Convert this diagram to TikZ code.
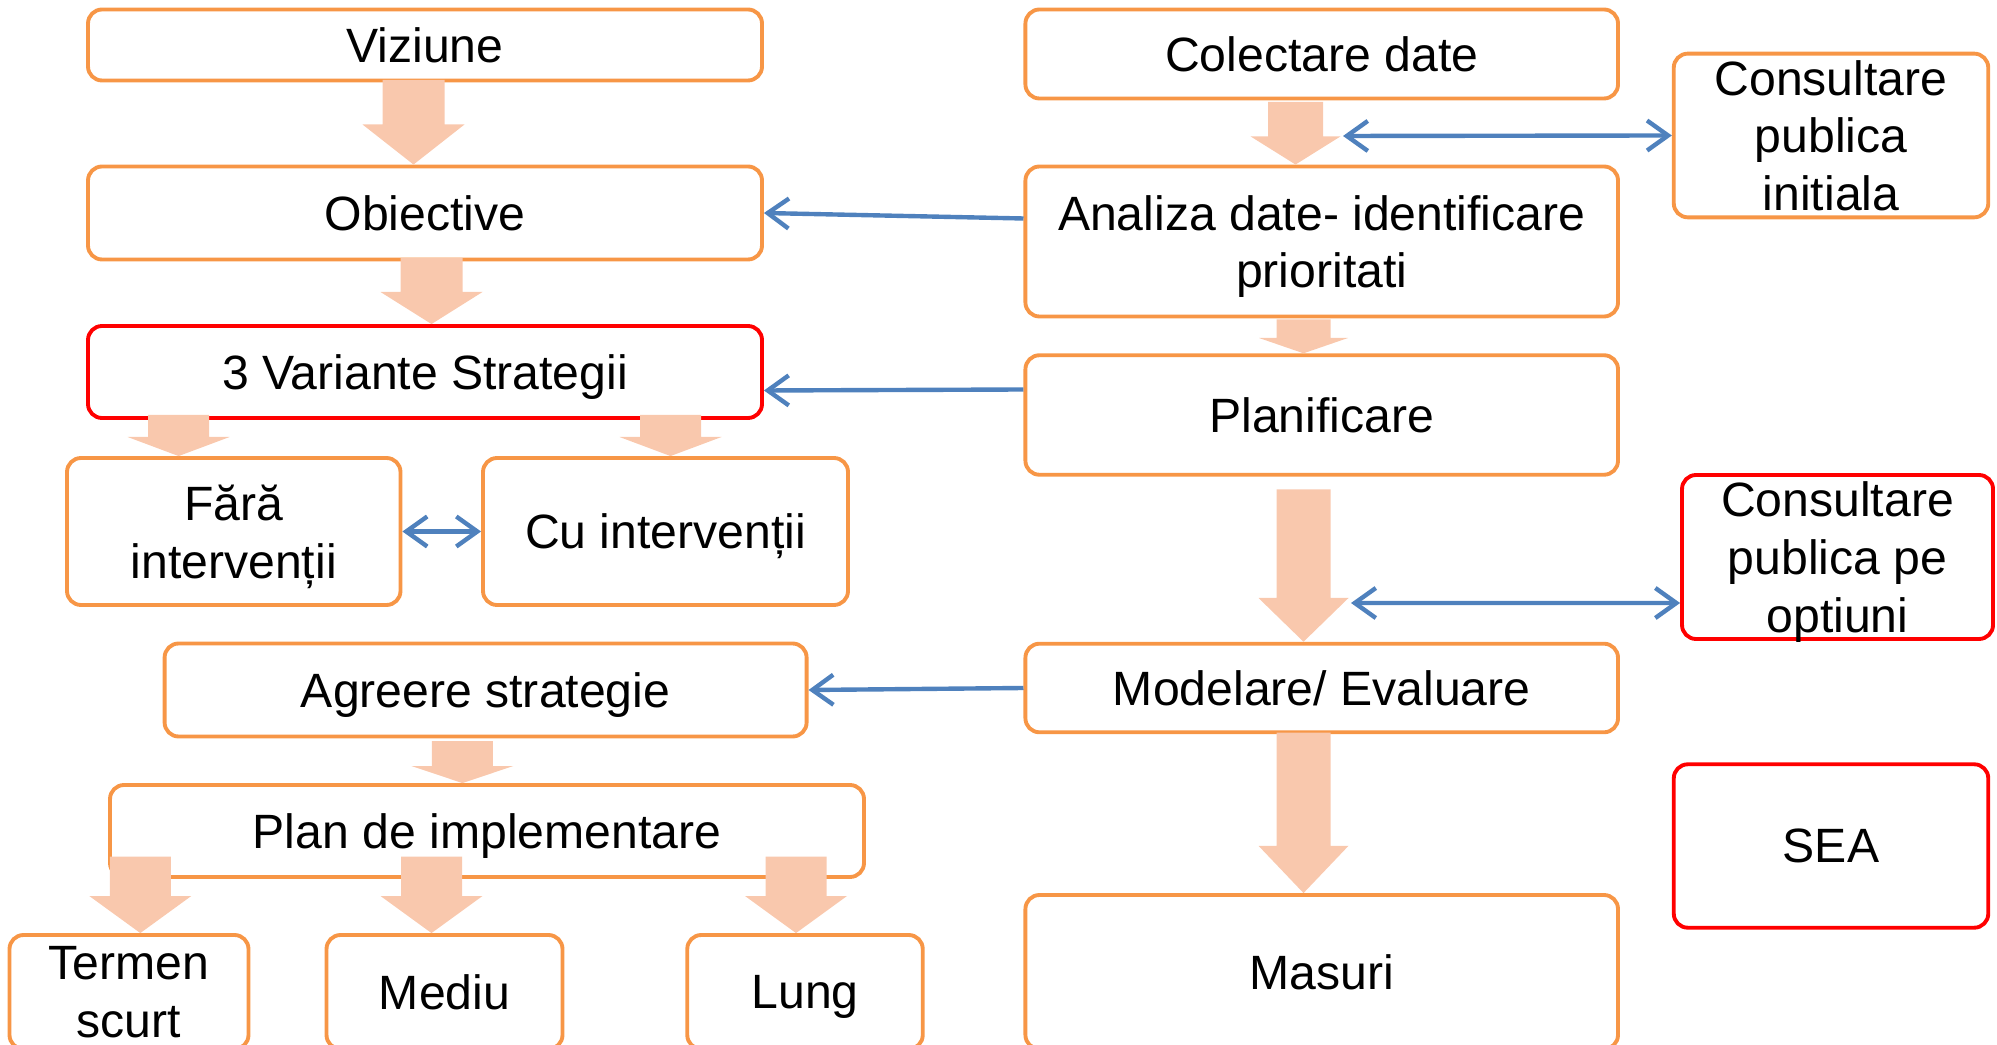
\documentclass[tikz,border=0pt]{standalone}
\usepackage{amsmath}
\usepackage{fontspec}
\setmainfont{Liberation Sans}
\usepackage{xcolor}
\usetikzlibrary{arrows.meta}
\definecolor{boxorange}{HTML}{F79646}
\definecolor{boxred}{HTML}{FF0000}
\definecolor{linkblue}{HTML}{4F81BD}
\definecolor{arrowfill}{HTML}{F9C8AD}
\newcommand{\blockarrow}[6]{\fill[arrowfill] ({#1-#5},#2) -- ({#1+#5},#2) -- ({#1+#5},#3) -- ({#1+#6},#3) -- ({#1},0 |- #4.north) -- ({#1-#6},#3) -- ({#1-#5},#3) -- cycle;}

\begin{document}
\begin{tikzpicture}[x=0.1mm, y=-0.1mm,
  box/.style={draw=boxorange, line width=1.1pt, rounded corners=1.4mm, fill=white, align=center, inner sep=0pt, font=\fontsize{13.7pt}{16.4pt}\selectfont},
    redbox/.style={box, draw=boxred},
  link/.style={-{Straight Barb[length=2.1mm,width=3mm]}, draw=linkblue, line width=1.25pt},
  dlink/.style={link, {Straight Barb[length=2.1mm,width=3mm]}-{Straight Barb[length=2.1mm,width=3mm]}}
]
\useasboundingbox (0,0) rectangle (1997,1045);
\node[box, minimum width=67.4mm, minimum height=7.1mm] (viz) at (425,45) {Viziune};
\node[box, minimum width=67.4mm, minimum height=9.3mm] (obj) at (425,213) {Obiective};
\node[redbox, minimum width=67.4mm, minimum height=9.2mm] (var) at (425,372) {\smash[b]{3 Variante Strategii}};
\node[box, minimum width=33.35mm, minimum height=14.7mm] (fara) at (233.75,531.5) {Fără\\\smash[b]{intervenții}};
\node[box, minimum width=36.5mm, minimum height=14.7mm] (cu) at (665.5,531.5) {\smash[b]{Cu intervenții}};
\node[box, minimum width=64.2mm, minimum height=9.3mm] (agr) at (485.6,690) {\smash[b]{Agreere strategie}};
\node[box, minimum width=75.4mm, minimum height=9.2mm] (impl) at (487,831) {\smash[b]{Plan de implementare}};
\node[box, minimum width=23.9mm, minimum height=11.4mm] (ter) at (129,992) {Termen\\scurt};
\node[box, minimum width=23.6mm, minimum height=11.4mm] (med) at (444.5,992) {Mediu};
\node[box, minimum width=23.55mm, minimum height=11.4mm] (lung) at (805,992) {\smash[b]{Lung}};
\node[box, minimum width=59.26mm, minimum height=8.9mm] (col) at (1321.7,54) {Colectare date};
\node[box, minimum width=59.26mm, minimum height=15mm] (ana) at (1321.7,241.5) {Analiza date- identificare\\\smash[b]{prioritati}};
\node[box, minimum width=59.26mm, minimum height=11.95mm] (plf) at (1321.7,415) {Planificare};
\node[box, minimum width=59.26mm, minimum height=8.86mm] (mod) at (1321.7,688) {Modelare/ Evaluare};
\node[box, minimum width=59.26mm, minimum height=15.4mm] (mas) at (1321.7,972) {Masuri};
\node[box, minimum width=31.45mm, minimum height=16.37mm] (cpi) at (1831,135.5) {Consultare\\publica\\initiala};
\node[redbox, minimum width=31.1mm, minimum height=16.4mm] (cpo) at (1837.5,557) {Consultare\\publica pe\\\smash[b]{optiuni}};
\node[redbox, minimum width=31.45mm, minimum height=16.34mm] (sea) at (1831,846) {SEA};
\foreach \cx/\top/\hs/\tgt/\sw/\hw in {413.5/80/124.5/obj/31/51, 431.5/258/292/var/31/51, 178.6/415/437/fara/30.5/51, 670.5/415/437/cu/30.5/51, 462.4/741/766/impl/30.5/51, 140.3/856.7/896/ter/30.5/51, 431.5/856.7/896/med/30.5/51, 796/856.7/896/lung/30.5/51, 1295.5/102/136.4/ana/27.5/45, 1303.5/319.5/338/plf/27/44.5, 1303.5/489.5/598/mod/27/45, 1303.5/732.7/845.8/mas/27/45}{\blockarrow{\cx}{\top}{\hs}{\tgt}{\sw}{\hw}}
\coordinate (k1) at (1343,136);
\coordinate (k2) at (1351,603);
\draw[link] ([yshift=2.3mm]ana.west) -- (obj.east);
\draw[link] ([yshift=2.55mm]plf.west) -- ([yshift=-1.85mm]var.east);
\draw[link] (mod.west) -- (agr.east);
\draw[dlink] (fara.east) -- (cu.west);
\draw[dlink] (k1) -- (cpi.west);
\draw[dlink] (k2) -- ([yshift=-4.6mm]cpo.west);
\end{tikzpicture}
\end{document}
